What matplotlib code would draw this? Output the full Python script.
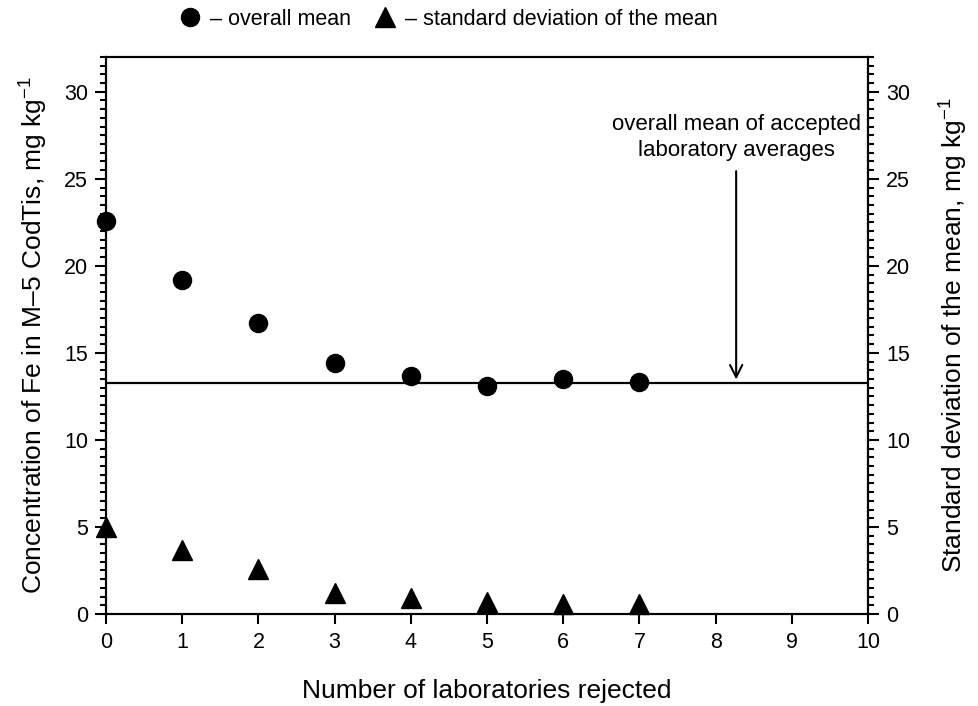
import matplotlib
matplotlib.use("Agg")
import matplotlib.pyplot as plt
from matplotlib.ticker import MultipleLocator

plt.rcParams['font.family'] = ['Liberation Sans', 'DejaVu Sans']
plt.rcParams['mathtext.fontset'] = 'custom'
plt.rcParams['mathtext.rm'] = 'Liberation Sans'
plt.rcParams['mathtext.it'] = 'Liberation Sans'

# data
n_rejected = [0, 1, 2, 3, 4, 5, 6, 7]
overall_mean = [22.6, 19.2, 16.7, 14.4, 13.7, 13.1, 13.5, 13.3]
std_of_mean = [5.0, 3.65, 2.6, 1.2, 0.9, 0.7, 0.6, 0.55]
accepted_mean = 13.26
arrow_x = 8.27
arrow_top = 25.6

fig = plt.figure(figsize=(9.79, 7.06), dpi=100)
ax = fig.add_axes([0.1083, 0.1303, 0.7783, 0.789])
ax2 = ax.twinx()

ax.axhline(accepted_mean, color='black', lw=1.6, zorder=2)
h1, = ax.plot(n_rejected, overall_mean, 'o', color='black', ms=13, clip_on=False, zorder=3,
              label='\u2013 overall mean')
h2, = ax.plot(n_rejected, std_of_mean, '^', color='black', ms=15, clip_on=False, zorder=3,
              label='\u2013 standard deviation of the mean')

ax.annotate('', xy=(arrow_x, accepted_mean + 0.05), xytext=(arrow_x, arrow_top),
            arrowprops=dict(arrowstyle='->', lw=1.5, color='black',
                            mutation_scale=22))
ax.text(arrow_x, 26.0, 'overall mean of accepted\nlaboratory averages',
        ha='center', va='bottom', fontsize=16, linespacing=1.35)

for a in (ax, ax2):
    a.set_xlim(0, 10)
    a.set_ylim(0, 32)
    a.yaxis.set_major_locator(MultipleLocator(5))
    a.yaxis.set_minor_locator(MultipleLocator(0.5))
    for s in a.spines.values():
        s.set_linewidth(1.5)

ax.xaxis.set_major_locator(MultipleLocator(1))
ax.tick_params(axis='x', which='major', direction='out', length=7, width=1.5,
               labelsize=15.5, pad=6)
ax.tick_params(axis='y', which='major', direction='out', length=8, width=1.5,
               labelsize=15.5, pad=5)
ax.tick_params(axis='y', which='minor', direction='out', length=4.5, width=1.5)
ax2.tick_params(axis='y', which='major', direction='out', length=8, width=1.5,
                labelsize=15.5, pad=5)
ax2.tick_params(axis='y', which='minor', direction='out', length=4.5, width=1.5)

ax.set_xlabel('Number of laboratories rejected', fontsize=19, labelpad=19)
ax.set_ylabel('Concentration of Fe in M\u20135 CodTis, mg kg$^{-1}$', fontsize=19, labelpad=10)
ax2.set_ylabel('Standard deviation of the mean, mg kg$^{-1}$', fontsize=19, labelpad=20)

fig.legend(handles=[h1, h2], loc='upper center', bbox_to_anchor=(0.457, 1.015), ncol=2,
           frameon=False, fontsize=15.5, handletextpad=0.3, columnspacing=1.0,
           handlelength=1.2)

fig.savefig('out.png', dpi=100)
